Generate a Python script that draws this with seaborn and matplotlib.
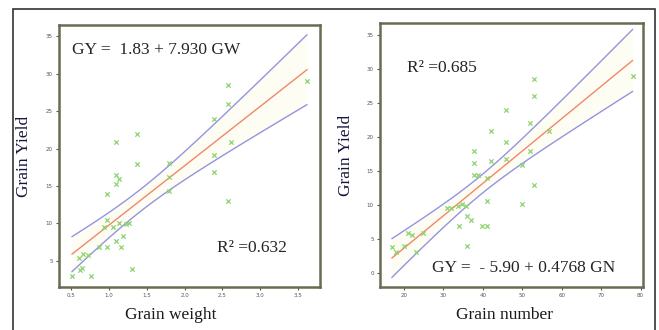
# -*- coding: utf-8 -*-
"""
Grain yield vs grain weight / grain number, linear fits with 95% CI
"""

import numpy as np
import pandas as pd
import matplotlib
matplotlib.use('Agg')
import matplotlib.pyplot as plt
from matplotlib.patches import Rectangle
import seaborn as sns


#%% DATA

gw = [0.51, 0.60, 0.66, 0.72, 0.62, 0.65, 0.76, 0.87, 0.94, 0.98, 0.98, 1.05,
      1.10, 1.13, 1.16, 1.18, 1.23, 1.27, 1.31, 0.98, 1.09, 1.09, 1.13, 1.09,
      1.37, 1.37, 1.80, 1.80, 1.80, 2.39, 2.39, 2.39, 2.58, 2.58, 2.61, 2.58,
      3.62]
gy_w = [3.0, 5.4, 5.9, 5.8, 3.8, 4.0, 3.0, 6.9, 9.5, 6.9, 10.4, 9.5,
        7.7, 10.1, 6.9, 8.3, 9.9, 10.1, 3.9, 13.9, 15.3, 16.5, 15.9, 20.9,
        22.0, 17.9, 18.0, 16.2, 14.3, 23.9, 19.1, 16.8, 28.5, 25.9, 20.9, 13.0,
        29.0]

gn = [16.9, 17.9, 20.0, 21.0, 22.0, 23.0, 24.9, 30.8, 31.9, 33.8, 34.0, 34.8,
      35.7, 35.9, 35.9, 36.9, 37.8, 37.8, 37.8, 38.8, 39.9, 41.0, 41.0, 41.0,
      42.0, 42.1, 45.9, 45.9, 45.9, 49.8, 49.8, 52.0, 52.0, 52.9, 52.9, 52.9,
      56.8, 78.0]
gy_n = [3.8, 3.1, 3.9, 5.8, 5.6, 3.0, 5.9, 9.5, 9.5, 9.8, 6.9, 10.2,
        9.8, 3.9, 8.3, 7.8, 18.0, 16.2, 14.4, 14.4, 6.9, 6.9, 10.5, 13.9,
        16.5, 20.9, 24.0, 19.2, 16.8, 15.9, 10.2, 22.0, 17.9, 28.6, 26.0, 12.9,
        20.9, 29.0]

# fitted equations printed on the chart
coef_w = (1.83, 7.930)
coef_n = (-5.90, 0.4768)
r2_w = 0.632
r2_n = 0.685

xticks_w = [0.5, 1.0, 1.5, 2.0, 2.5, 3.0, 3.5]
yticks_w = [5, 10, 15, 20, 25, 30, 35]
xticks_n = [20, 30, 40, 50, 60, 70, 80]
yticks_n = [0, 5, 10, 15, 20, 25, 30, 35]


#%% PLOT

sns.set_style('white')
plt.rcParams['font.family'] = ['Liberation Serif', 'DejaVu Serif']

fig = plt.figure(figsize=(6.59, 3.3), dpi=100)
ax1 = fig.add_axes([0.0895, 0.1303, 0.396, 0.794])
ax2 = fig.add_axes([0.5766, 0.1303, 0.399, 0.800])

frame_col = '#6b6b52'
fit_col = '#f2866a'
ci_col = '#9494e0'
pt_col = '#8ed472'


def fit_panel(ax, x, y, coef):
    x = np.asarray(x)
    y = np.asarray(y)
    n = len(x)
    xs = np.linspace(x.min(), x.max(), 100)
    yhat = coef[0] + coef[1] * xs
    # 95% CI of the mean from residuals
    resid = y - (coef[0] + coef[1] * x)
    s = np.sqrt(np.sum(resid ** 2) / (n - 2))
    sxx = np.sum((x - x.mean()) ** 2)
    half = 2.03 * s * np.sqrt(1 / n + (xs - x.mean()) ** 2 / sxx)
    ax.fill_between(xs, yhat - half, yhat + half, color='#fefdf3', lw=0, zorder=1)
    sns.lineplot(x=xs, y=yhat + half, color=ci_col, lw=1, ax=ax, zorder=2)
    sns.lineplot(x=xs, y=yhat - half, color=ci_col, lw=1, ax=ax, zorder=2)
    sns.lineplot(x=xs, y=yhat, color=fit_col, lw=1, ax=ax, zorder=3)
    sns.scatterplot(x=x, y=y, marker='x', color=pt_col, s=10, linewidth=0.9,
                    ax=ax, zorder=4)


fit_panel(ax1, gw, gy_w, coef_w)
fit_panel(ax2, gn, gy_n, coef_n)

ax1.set_xlim(0.34, 3.79)
ax1.set_ylim(1.5, 36.5)
ax1.set_xticks(xticks_w)
ax1.set_xticklabels(['%.1f' % t for t in xticks_w])
ax1.set_yticks(yticks_w)

ax2.set_xlim(13.9, 80.6)
ax2.set_ylim(-2.1, 36.8)
ax2.set_xticks(xticks_n)
ax2.set_yticks(yticks_n)

for ax, xl in [(ax1, 'Grain weight'), (ax2, 'Grain number')]:
    for sp in ax.spines.values():
        sp.set_visible(True)
        sp.set_color(frame_col)
        sp.set_linewidth(1.8)
    ax.tick_params(axis='both', direction='out', length=2.5, width=0.8,
                   color='#555555', labelsize=4, labelcolor='#555555', pad=2,
                   bottom=True, left=True)
    for lab in ax.get_xticklabels() + ax.get_yticklabels():
        lab.set_family('DejaVu Sans')
    ax.set_xlabel(xl, fontsize=12.5, color='#1a1a1a')
    ax.set_ylabel('Grain Yield', fontsize=12.5, color='#16163c')

ax1.xaxis.set_label_coords(0.43, -0.075)
ax1.yaxis.set_label_coords(-0.105, 0.5)
ax2.xaxis.set_label_coords(0.475, -0.075)
ax2.yaxis.set_label_coords(-0.10, 0.5)

ax1.text(0.05, 0.905, 'GY =  %.2f + %.3f GW' % coef_w, transform=ax1.transAxes,
         fontsize=12.5, va='center', ha='left')
ax1.text(0.605, 0.149, 'R\u00b2 =%.3f' % r2_w, transform=ax1.transAxes,
         fontsize=12.5, va='center', ha='left')
ax2.text(0.103, 0.83, 'R\u00b2 =%.3f' % r2_n, transform=ax2.transAxes,
         fontsize=12.5, va='center', ha='left')
ax2.text(0.198, 0.072, 'GY =  - %.2f + %.4f GN' % (-coef_n[0], coef_n[1]),
         transform=ax2.transAxes, fontsize=12.5, va='center', ha='left')

# outer frame around the whole figure
fig.add_artist(Rectangle((0.0197, -0.1), 0.9743, 1.0727, transform=fig.transFigure,
                         fill=False, edgecolor='#333333', lw=1.2, clip_on=False))

plt.savefig('out.png', dpi=100)
plt.close()
